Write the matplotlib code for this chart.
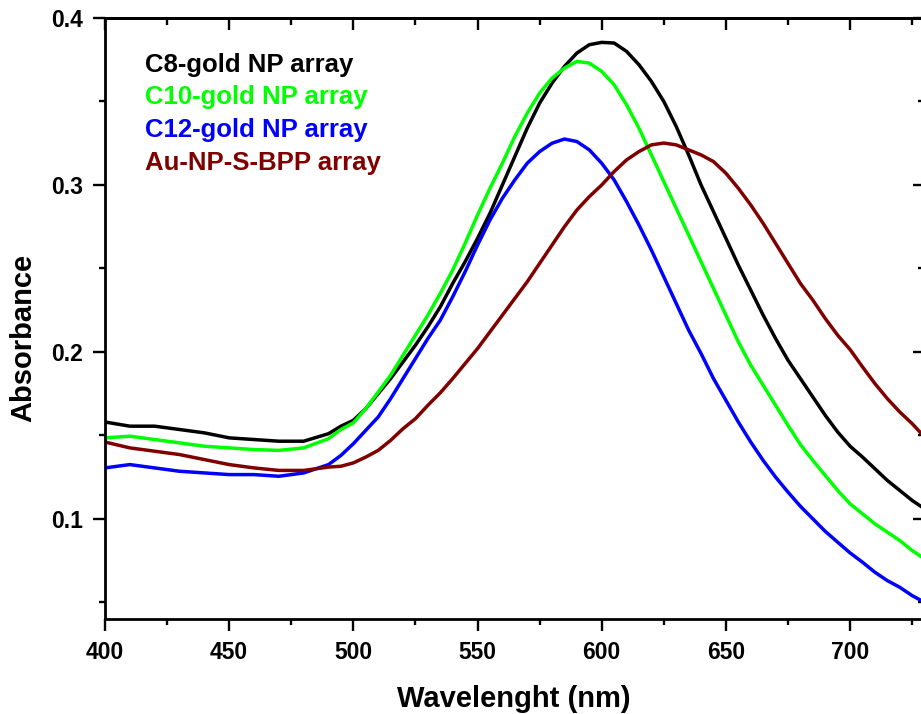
import matplotlib
matplotlib.use("Agg")
import matplotlib.pyplot as plt
from matplotlib.ticker import MultipleLocator

# ---------------- data ----------------
wavelength = [400, 410, 420, 430, 440, 450, 460, 470, 480, 490, 495,
              500, 505, 510, 515, 520, 525, 530, 535, 540, 545, 550, 555,
              560, 565, 570, 575, 580, 585, 590, 595, 600, 605, 610, 615,
              620, 625, 630, 635, 640, 645, 650, 655, 660, 665, 670, 675,
              680, 685, 690, 695, 700, 705, 710, 715, 720, 725, 730]

c8 = [0.158, 0.1555, 0.1555, 0.1535, 0.1515, 0.1485, 0.1475, 0.1465, 0.1465, 0.151, 0.1555,
      0.159, 0.166, 0.175, 0.184, 0.194, 0.204, 0.215, 0.227, 0.241, 0.254, 0.268, 0.283,
      0.300, 0.317, 0.334, 0.349, 0.361, 0.371, 0.379, 0.384, 0.3854, 0.385, 0.380, 0.372,
      0.362, 0.350, 0.335, 0.318, 0.300, 0.284, 0.268, 0.252, 0.237, 0.222, 0.208, 0.195,
      0.184, 0.173, 0.162, 0.152, 0.1435, 0.137, 0.130, 0.123, 0.117, 0.111, 0.106]

c10 = [0.1485, 0.1495, 0.1475, 0.1455, 0.1435, 0.1425, 0.1415, 0.141, 0.1425, 0.148, 0.1535,
       0.1575, 0.166, 0.176, 0.186, 0.198, 0.210, 0.222, 0.235, 0.249, 0.265, 0.282, 0.298,
       0.313, 0.329, 0.343, 0.355, 0.364, 0.370, 0.374, 0.373, 0.368, 0.360, 0.348, 0.334,
       0.318, 0.302, 0.286, 0.270, 0.254, 0.238, 0.222, 0.206, 0.192, 0.180, 0.168, 0.156,
       0.1445, 0.135, 0.126, 0.117, 0.109, 0.103, 0.097, 0.092, 0.087, 0.081, 0.076]

c12 = [0.1305, 0.1325, 0.1305, 0.1285, 0.1275, 0.1265, 0.1265, 0.1255, 0.1275, 0.1325, 0.138,
       0.145, 0.153, 0.161, 0.172, 0.184, 0.196, 0.208, 0.219, 0.233, 0.248, 0.264, 0.279,
       0.292, 0.303, 0.313, 0.320, 0.325, 0.3275, 0.326, 0.321, 0.313, 0.303, 0.290, 0.276,
       0.261, 0.245, 0.229, 0.213, 0.199, 0.184, 0.171, 0.158, 0.146, 0.135, 0.125, 0.116,
       0.1075, 0.100, 0.0925, 0.086, 0.0796, 0.074, 0.068, 0.063, 0.059, 0.054, 0.050]

bpp = [0.146, 0.1425, 0.1405, 0.1385, 0.1355, 0.1325, 0.1305, 0.129, 0.129, 0.131, 0.1315,
       0.1335, 0.137, 0.141, 0.147, 0.154, 0.160, 0.168, 0.1755, 0.184, 0.193, 0.202, 0.212,
       0.222, 0.232, 0.242, 0.253, 0.264, 0.275, 0.285, 0.293, 0.300, 0.308, 0.315, 0.320,
       0.324, 0.3251, 0.324, 0.321, 0.318, 0.314, 0.307, 0.298, 0.288, 0.277, 0.265, 0.253,
       0.241, 0.231, 0.220, 0.210, 0.2014, 0.191, 0.181, 0.172, 0.164, 0.157, 0.149]

labels = ["C8-gold NP array", "C10-gold NP array", "C12-gold NP array", "Au-NP-S-BPP array"]
colors = ["#000000", "#00FF00", "#0000FF", "#800000"]
series = [c8, c10, c12, bpp]

# ---------------- figure ----------------
plt.rcParams['font.family'] = ['Liberation Sans', 'DejaVu Sans']
plt.rcParams['font.weight'] = 'bold'

W, H = 921, 714
fig = plt.figure(figsize=(W / 100, H / 100), dpi=100)
left_px, right_px, top_px, bot_px = 105, 924.6, 18, 619
ax = fig.add_axes([left_px / W, 1 - bot_px / H, (right_px - left_px) / W, (bot_px - top_px) / H])

for ys, c in zip(series, colors):
    ax.plot(wavelength, ys, color=c, lw=2.5, solid_capstyle='butt')

ax.set_xlim(400, 730)
ax.set_ylim(0.04, 0.4)

ax.xaxis.set_major_locator(MultipleLocator(50))
ax.xaxis.set_minor_locator(MultipleLocator(25))
ax.yaxis.set_major_locator(MultipleLocator(0.1))
ax.yaxis.set_minor_locator(MultipleLocator(0.05))
ax.yaxis.set_major_formatter(matplotlib.ticker.FuncFormatter(lambda v, p: f"{v:.1f}"))

for s in ax.spines.values():
    s.set_linewidth(2.0)

ax.tick_params(which='major', direction='out', length=8.6, width=1.7, labelsize=16.5, pad=7.5)
ax.tick_params(which='minor', direction='out', length=4.6, width=1.7)
ax.tick_params(axis='y', which='major', pad=7.2)
for lab in ax.get_xticklabels() + ax.get_yticklabels():
    lab.set_fontweight('bold')

# inward ticks on top and right
top = ax.secondary_xaxis('top')
top.xaxis.set_major_locator(MultipleLocator(50))
top.xaxis.set_minor_locator(MultipleLocator(25))
top.tick_params(which='major', direction='in', length=8.6, width=1.7, labeltop=False)
top.tick_params(which='minor', direction='in', length=4.8, width=1.7)
top.spines['top'].set_linewidth(2.0)

right = ax.secondary_yaxis('right')
right.yaxis.set_major_locator(MultipleLocator(0.1))
right.yaxis.set_minor_locator(MultipleLocator(0.05))
right.tick_params(which='major', direction='in', length=8.6, width=1.7, labelright=False)
right.tick_params(which='minor', direction='in', length=4.8, width=1.7)
right.spines['right'].set_linewidth(2.0)

# axis labels
fig.text(514 / W, 1 - 707 / H, "Wavelenght (nm)", ha='center', va='baseline',
         fontsize=21, fontweight='bold')
fig.text(31.7 / W, 1 - 338 / H, "Absorbance", ha='center', va='baseline',
         rotation=90, rotation_mode='anchor', fontsize=21, fontweight='bold')

# legend-like coloured labels
baselines_px = [71.7, 104.3, 137.2, 170.0]
for lab, c, yb in zip(labels, colors, baselines_px):
    fig.text(145 / W, 1 - yb / H, lab, color=c, ha='left', va='baseline',
             fontsize=18.5, fontweight='bold')

fig.savefig("out.png", dpi=100)
